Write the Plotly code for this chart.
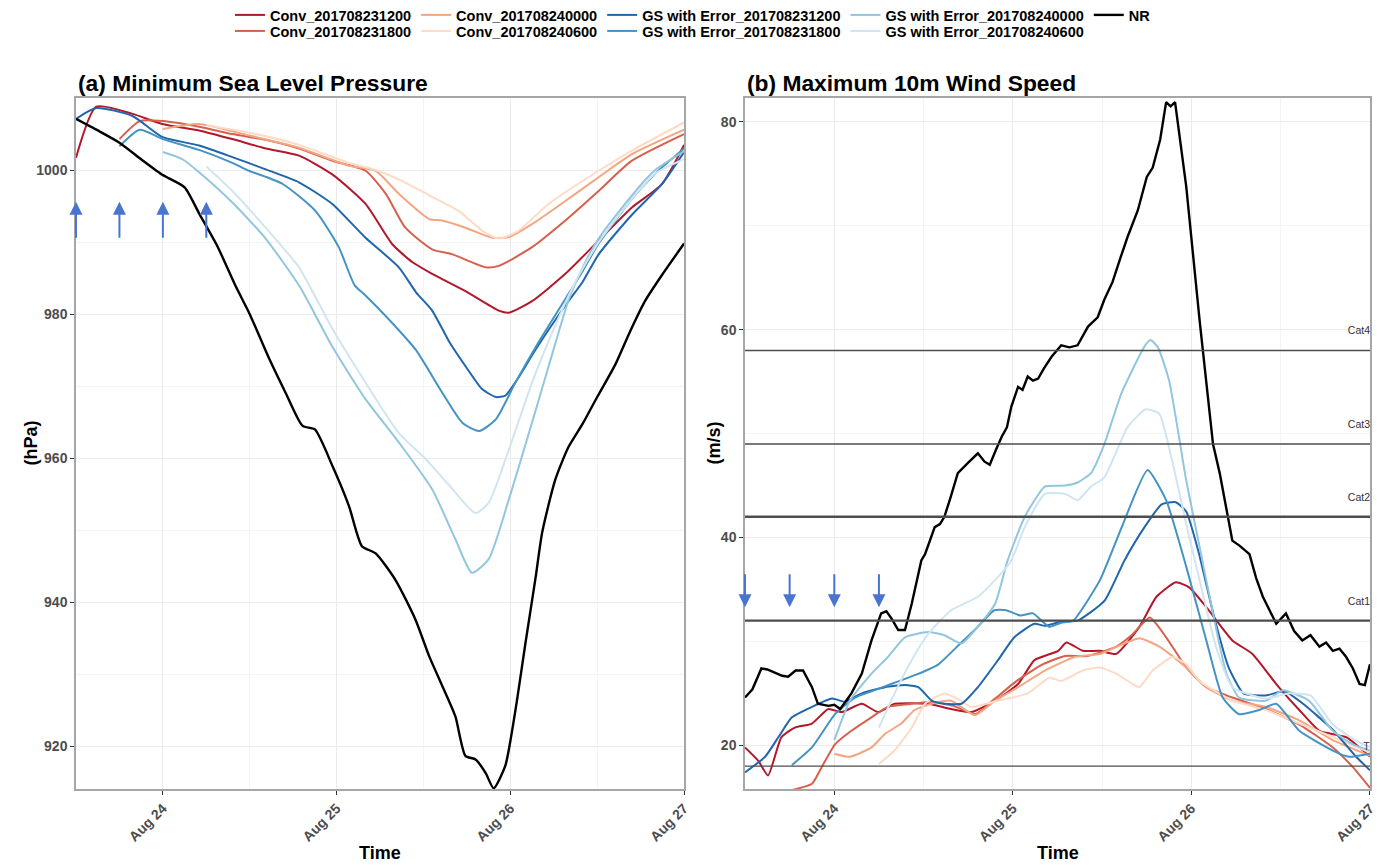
import pandas as pd
import plotly.graph_objects as go

BASE = pd.Timestamp("2017-08-23 12:00")
FONT = "Liberation Sans"

# ---------------- (a) Minimum sea level pressure (hPa) ----------------
# hours after 2017-08-23 12:00
p_conv1200_t = [0, 2.8, 7.8, 11.9, 17, 21.6, 26.2, 30.8, 35.4, 40, 43.7, 46.5, 49.2, 53.8, 58.4, 59.8, 63, 67.6, 72.2, 76.8, 80.9, 84]
p_conv1200 = [1001.7, 1008.8, 1007.8, 1006.4, 1005.5, 1004.3, 1003.0, 1002.0, 999.4, 995.3, 989.7, 987.2, 985.6, 983.2, 980.5, 980.2, 981.8, 985.6, 990.2, 994.8, 998.0, 1003.5]
p_conv1800_t = [6, 8.8, 12, 17, 21.6, 26.2, 30.8, 35.4, 40, 42.8, 45.5, 49.2, 52, 56.6, 58.4, 63, 67.6, 72.2, 76.8, 84]
p_conv1800 = [1004.3, 1006.8, 1006.8, 1006.0, 1005.0, 1004.2, 1003.0, 1001.3, 999.9, 996.7, 992.0, 989.0, 988.3, 986.5, 986.7, 989.3, 993.0, 997.1, 1001.3, 1005.0]
p_conv0000_t = [12, 17, 23.9, 30.8, 37.7, 41.4, 44.6, 48.8, 50.6, 53.8, 57.5, 59.8, 63, 67.6, 72.2, 76.8, 84]
p_conv0000 = [1005.7, 1006.4, 1004.8, 1003.1, 1000.6, 999.9, 996.7, 993.2, 993.0, 992.0, 990.6, 990.7, 992.5, 995.7, 999.0, 1002.2, 1005.6]
p_conv0600_t = [18, 23.9, 30.8, 37.7, 41.4, 45, 48.8, 52.9, 56.1, 58.4, 61, 65.3, 72.2, 76.8, 84]
p_conv0600 = [1006.2, 1005.2, 1003.5, 1001.0, 1000.0, 998.5, 996.5, 994.3, 991.6, 990.5, 991.5, 995.3, 999.9, 1002.7, 1006.6]
p_gs1200_t = [0, 2.8, 7.8, 11.9, 17, 21.6, 26.2, 30.8, 35.4, 40, 44.6, 47, 49.2, 51.6, 54, 56.1, 58, 59.3, 61, 63.5, 67.6, 70, 72.2, 76.8, 80.9, 84]
p_gs1200 = [1007.1, 1008.6, 1007.5, 1004.6, 1003.4, 1001.8, 1000.1, 998.3, 995.3, 990.6, 986.5, 983.0, 980.5, 976.1, 972.5, 969.6, 968.5, 968.7, 971.0, 975.1, 981.2, 984.5, 988.3, 993.8, 998.0, 1002.5]
p_gs1800_t = [6, 8.8, 12, 17, 21.6, 23.9, 28.5, 33.1, 36.3, 38.5, 40, 43.2, 46.9, 50.6, 53.4, 55.7, 58, 60.7, 63.9, 67.6, 70, 72.2, 76.8, 80, 84]
p_gs1800 = [1003.3, 1005.6, 1004.3, 1002.8, 1001.0, 999.9, 998.1, 994.3, 989.3, 984.0, 982.6, 979.3, 975.1, 969.1, 964.9, 963.8, 965.4, 970.5, 976.1, 982.1, 986.0, 989.8, 996.0, 999.5, 1003.0]
p_gs0000_t = [12, 14.7, 17, 21.6, 26.2, 30.8, 33, 35.4, 40, 44.6, 49.2, 52.4, 54.7, 57, 59.8, 62.6, 65.3, 68.1, 70, 72.2, 76.8, 80, 84]
p_gs0000 = [1002.5, 1001.5, 999.7, 995.5, 990.5, 984.0, 980.0, 975.5, 968.2, 962.2, 955.7, 948.8, 944.1, 946.0, 954.3, 963.6, 972.8, 982.1, 986.5, 990.5, 996.5, 1000.0, 1002.6]
p_gs0600_t = [18, 21.6, 26.2, 30.8, 35.4, 40, 44.6, 48.3, 51.6, 55.2, 57, 59.8, 63, 66.2, 69, 72.2, 76.8, 80, 84]
p_gs0600 = [1000.5, 997.1, 992.0, 986.5, 978.0, 970.5, 963.5, 959.9, 956.2, 952.4, 953.8, 961.2, 970.5, 978.4, 984.5, 990.0, 996.0, 999.5, 1001.5]
p_nr_t = [0, 3, 6, 9, 12, 15, 17, 19.5, 22, 24, 26.7, 29, 31.3, 33, 35.4, 37.7, 39.5, 41.4, 44.2, 46.9, 48.8, 50.6, 52.4, 53.8, 55.2, 56.6, 57.7, 59.3, 60.7, 62.1, 63.5, 64.4, 66.2, 68, 70, 72, 74.5, 76.5, 78.6, 81, 84]
p_nr = [1007.1, 1005.5, 1003.8, 1001.5, 999.3, 997.6, 994.0, 989.5, 984.0, 980.0, 973.8, 969.0, 964.5, 964.0, 959.0, 953.4, 947.8, 946.8, 943.0, 937.6, 932.5, 928.4, 924.2, 918.7, 918.2, 916.3, 914.2, 917.3, 925.0, 934.4, 943.5, 949.7, 957.0, 961.5, 964.8, 968.5, 973.0, 977.5, 981.8, 985.5, 989.8]

# ---------------- (b) Maximum 10 m wind speed (m/s) ----------------
w_conv1200_t = [0, 1.8, 3.1, 4.9, 6.7, 9, 11.2, 13, 15.7, 17.9, 20.1, 24.6, 27.7, 30.4, 33.6, 36.7, 38.9, 42.1, 43.2, 45.4, 47.7, 49.9, 53, 55.3, 57.9, 59.7, 62, 65.5, 68.2, 71.4, 74.5, 77.2, 80.8, 82.6, 84]
w_conv1200 = [19.8, 18.5, 17.1, 20.8, 21.7, 22.1, 23.5, 23.2, 24.0, 23.2, 24.0, 24.0, 23.5, 23.2, 24.3, 25.9, 28.2, 29.1, 29.9, 29.1, 29.1, 28.8, 31.4, 34.3, 35.7, 35.2, 33.3, 30.1, 28.8, 25.9, 23.4, 21.4, 20.8, 19.8, 18.9]
w_conv1800_t = [5.8, 9, 10.3, 12.1, 14.3, 17, 19.2, 22.4, 25, 28, 31, 33.6, 36.7, 40, 43, 46, 49.9, 52.1, 54.4, 56.6, 59.3, 62, 65.5, 70, 74.5, 79, 81.7, 84]
w_conv1800 = [15.6, 16.3, 17.9, 20.1, 21.4, 22.7, 23.7, 24.0, 24.2, 23.8, 23.0, 24.5, 26.3, 27.8, 28.6, 28.6, 29.5, 30.7, 32.3, 30.4, 27.5, 25.6, 24.6, 23.5, 22.0, 19.8, 17.9, 15.9]
w_conv0000_t = [12, 14.1, 17, 18.8, 21, 22.8, 25.1, 27.7, 30.9, 33.6, 36.7, 40.3, 44.3, 47.7, 50, 53, 55.7, 59.3, 62, 65.5, 70, 74.5, 79, 84]
w_conv0000 = [19.2, 18.9, 19.8, 21.1, 22.1, 23.4, 24.0, 24.3, 22.9, 24.3, 25.6, 27.2, 28.5, 28.8, 29.5, 30.3, 29.5, 27.5, 25.6, 24.3, 23.7, 22.4, 20.5, 19.0]
w_conv0600_t = [18, 20.1, 22.4, 24.2, 26.8, 28.5, 30.4, 34, 38, 40.9, 42.5, 45.4, 47.7, 49.9, 52.1, 53, 54.8, 57.5, 59.3, 61.1, 65.5, 70, 74.5, 79, 84]
w_conv0600 = [18.2, 19.5, 21.7, 24.0, 25.0, 24.5, 23.7, 24.3, 25.0, 26.5, 26.2, 27.2, 27.5, 26.9, 25.9, 25.6, 27.2, 28.5, 27.8, 26.2, 24.3, 23.4, 22.1, 20.8, 19.3]
w_gs1200_t = [0, 2.7, 4.5, 6.3, 9, 11.7, 13.4, 15.7, 18.8, 21.5, 23.3, 25.1, 26.8, 29.1, 31.3, 34, 36.2, 38.9, 40.3, 42.5, 44.7, 48.3, 51, 53.7, 56, 57.9, 59.3, 61, 63, 65, 67, 70, 72.5, 75, 79, 82, 84]
w_gs1200 = [17.4, 18.9, 20.8, 22.7, 23.7, 24.5, 24.2, 25.0, 25.6, 25.8, 25.6, 24.3, 24.0, 24.0, 25.6, 28.2, 30.4, 31.7, 31.5, 31.9, 32.0, 33.9, 37.8, 41.0, 43.2, 43.4, 42.5, 38.5, 32.5, 27.5, 25.0, 24.8, 25.2, 24.0, 21.5, 19.0, 17.6]
w_gs1800_t = [6.3, 9, 12.1, 14.8, 17, 20, 23, 26, 28.5, 31, 33.5, 35.1, 37, 38.7, 40.9, 42.5, 44.1, 47.7, 50.8, 54.1, 56.6, 59.3, 62, 64.2, 66.4, 69.1, 71.4, 74.5, 79, 81.2, 84]
w_gs1800 = [18.1, 19.8, 23.0, 24.6, 25.2, 26.0, 26.8, 27.8, 29.5, 31.2, 33.0, 33.0, 32.5, 32.7, 31.4, 31.8, 32.0, 35.9, 41.3, 46.5, 43.6, 37.2, 30.1, 24.6, 23.0, 23.4, 24.0, 21.4, 19.5, 18.9, 19.2]
w_gs0000_t = [12, 14.1, 17, 19.2, 21.5, 24.6, 26.8, 29.1, 31.3, 33.6, 35.3, 37.6, 40.3, 43, 44.7, 46.5, 48.3, 50.6, 53.7, 54.5, 55.5, 57, 59.3, 61.1, 62.9, 64.7, 66.4, 70, 72.3, 75.8, 79, 81.7, 84]
w_gs0000 = [20.5, 24.3, 26.9, 28.5, 30.4, 30.9, 30.6, 29.8, 31.4, 33.6, 37.8, 42.0, 44.9, 45.0, 45.3, 46.2, 49.0, 53.9, 58.4, 59.0, 58.3, 55.1, 45.5, 39.1, 32.7, 26.9, 24.6, 24.3, 25.3, 24.3, 21.4, 20.1, 19.5]
w_gs0600_t = [18, 20.1, 22.4, 24.6, 27.7, 31.3, 33.6, 35.8, 37.6, 40.3, 43, 44.7, 46.5, 48.3, 51.4, 53.7, 54.4, 55.7, 57.5, 59.3, 61.1, 63.3, 65.5, 70, 73, 76, 79, 82, 84]
w_gs0600 = [21.7, 25.0, 28.2, 30.7, 33.0, 34.3, 35.9, 37.8, 41.0, 44.2, 44.2, 43.6, 44.9, 45.8, 50.6, 52.3, 52.3, 51.9, 47.1, 41.3, 35.9, 29.5, 25.6, 24.5, 25.0, 24.8, 22.0, 20.5, 19.8]
w_nr_t = [0, 1, 2.2, 3, 4, 5, 5.8, 6.8, 7.8, 9, 9.8, 10.5, 11.2, 12, 12.8, 14.3, 15.7, 17, 18.3, 19, 19.7, 20.6, 21.5, 22.4, 23.7, 24.2, 25.5, 26.2, 26.8, 27.6, 28.6, 30, 31.3, 32.2, 32.9, 33.7, 34.5, 35.2, 35.8, 36.7, 37.3, 38, 38.7, 39.4, 40.2, 41.2, 42.5, 43.6, 44.7, 46.1, 47.4, 48.3, 49.4, 50.5, 51.4, 52.8, 54, 54.8, 55.8, 56.6, 57.2, 57.8, 59.3, 61.1, 62.9, 63.8, 64.7, 65.5, 66.5, 67.8, 68.7, 69.6, 70.5, 71.4, 72.7, 73.8, 74.9, 76, 77.2, 78.1, 79, 79.9, 80.8, 81.7, 82.6, 83.3, 84]
w_nr = [24.6, 25.4, 27.4, 27.3, 27.0, 26.7, 26.6, 27.2, 27.2, 25.6, 24.0, 23.9, 23.8, 23.9, 23.5, 25.0, 26.9, 30.1, 32.7, 32.9, 32.2, 31.1, 31.1, 33.6, 37.8, 38.4, 41.0, 41.3, 42.0, 43.8, 46.2, 47.2, 48.1, 47.3, 47.0, 48.4, 49.7, 50.6, 52.6, 54.5, 54.2, 55.5, 55.1, 55.3, 56.3, 57.4, 58.5, 58.3, 58.5, 60.3, 61.2, 62.9, 64.6, 67.0, 68.9, 71.5, 74.7, 75.6, 78.3, 81.9, 81.5, 81.9, 73.8, 60.9, 49.0, 46.2, 42.9, 39.7, 39.2, 38.4, 36.1, 34.3, 33.0, 31.7, 32.7, 31.0, 30.1, 30.6, 29.5, 29.9, 29.1, 29.3, 28.5, 27.4, 25.9, 25.8, 27.8]

cat_levels = [18, 32, 42, 49, 58]
cat_labels = ["TS", "Cat1", "Cat2", "Cat3", "Cat4"]
cat_widths = [1.3, 2.4, 2.4, 1.3, 1.3]
arrow_hours = [0, 6, 12, 18]

names = ["Conv_201708231200", "Conv_201708231800", "Conv_201708240000", "Conv_201708240600",
         "GS with Error_201708231200", "GS with Error_201708231800", "GS with Error_201708240000",
         "GS with Error_201708240600", "NR"]
colors = ["#B2182B", "#D6604D", "#F4A582", "#FDDBC7", "#2166AC", "#4393C3", "#92C5DE", "#D1E5F0", "#000000"]
legend_of = ["legend", "legend2", "legend", "legend2", "legend", "legend2", "legend", "legend2", "legend"]

p_series = [(p_conv1200_t, p_conv1200), (p_conv1800_t, p_conv1800), (p_conv0000_t, p_conv0000),
            (p_conv0600_t, p_conv0600), (p_gs1200_t, p_gs1200), (p_gs1800_t, p_gs1800),
            (p_gs0000_t, p_gs0000), (p_gs0600_t, p_gs0600), (p_nr_t, p_nr)]
w_series = [(w_conv1200_t, w_conv1200), (w_conv1800_t, w_conv1800), (w_conv0000_t, w_conv0000),
            (w_conv0600_t, w_conv0600), (w_gs1200_t, w_gs1200), (w_gs1800_t, w_gs1800),
            (w_gs0000_t, w_gs0000), (w_gs0600_t, w_gs0600), (w_nr_t, w_nr)]


def to_time(hours):
    return [BASE + pd.Timedelta(hours=h) for h in hours]


fig = go.Figure()

for i, name in enumerate(names):
    t, v = p_series[i]
    is_nr = name == "NR"
    fig.add_trace(go.Scatter(
        x=to_time(t), y=v, mode="lines", name=name, legend=legend_of[i],
        line=dict(color=colors[i], width=2.4 if is_nr else 2.0, shape="spline", smoothing=0.6),
        xaxis="x", yaxis="y", showlegend=True))

for i, name in enumerate(names):
    t, v = w_series[i]
    is_nr = name == "NR"
    fig.add_trace(go.Scatter(
        x=to_time(t), y=v, mode="lines", name=name,
        line=dict(color=colors[i], width=2.4 if is_nr else 2.0,
                  shape="linear" if is_nr else "spline", smoothing=0.5),
        xaxis="x2", yaxis="y2", showlegend=False))

t_start = BASE
t_end = BASE + pd.Timedelta(hours=84)
for lev, lab, lw in zip(cat_levels, cat_labels, cat_widths):
    fig.add_trace(go.Scatter(x=[t_start, t_end], y=[lev, lev], mode="lines",
                             line=dict(color="#4D4D4D", width=lw), xaxis="x2", yaxis="y2",
                             showlegend=False, hoverinfo="skip"))
    fig.add_trace(go.Scatter(x=[t_end], y=[lev + 1.8], mode="text", text=[lab],
                             textposition="middle center" if lab == "TS" else "middle left",
                             textfont=dict(family=FONT, size=10.5, color="#333333"),
                             cliponaxis=True, xaxis="x2", yaxis="y2", showlegend=False,
                             hoverinfo="skip"))

annotations = []
ARROW = "#4A74D0"
for h in arrow_hours:
    tt = BASE + pd.Timedelta(hours=h)
    annotations.append(dict(x=tt, y=995.6, ax=tt, ay=990.4, xref="x", yref="y", axref="x", ayref="y",
                            showarrow=True, arrowhead=2, arrowsize=1.3, arrowwidth=2, arrowcolor=ARROW, text=""))
    annotations.append(dict(x=tt, y=33.3, ax=tt, ay=36.6, xref="x2", yref="y2", axref="x2", ayref="y2",
                            showarrow=True, arrowhead=2, arrowsize=1.3, arrowwidth=2, arrowcolor=ARROW, text=""))

title_font = dict(family=FONT, size=22.8, color="black", weight="bold")
axis_title_font = dict(family=FONT, size=18, color="black", weight="bold")
annotations += [
    dict(text="(a) Minimum Sea Level Pressure", x=0.0, y=1.0217, xref="paper", yref="paper",
         xanchor="left", yanchor="middle", showarrow=False, font=title_font),
    dict(text="(b) Maximum 10m Wind Speed", x=0.517, y=1.0217, xref="paper", yref="paper",
         xanchor="left", yanchor="middle", showarrow=False, font=title_font),
    dict(text="Time", x=0.235, y=-0.0926, xref="paper", yref="paper", showarrow=False,
         xanchor="center", yanchor="middle", font=axis_title_font),
    dict(text="Time", x=0.759, y=-0.0926, xref="paper", yref="paper", showarrow=False,
         xanchor="center", yanchor="middle", font=axis_title_font),
    dict(text="(hPa)", x=-0.0355, y=0.5, xref="paper", yref="paper", showarrow=False, textangle=-90,
         xanchor="center", yanchor="middle", font=axis_title_font),
    dict(text="(m/s)", x=0.4923, y=0.5, xref="paper", yref="paper", showarrow=False, textangle=-90,
         xanchor="center", yanchor="middle", font=axis_title_font),
]

tick_font = dict(family=FONT, size=14, color="#4D4D4D", weight="bold")
xaxis_common = dict(
    type="date", tickvals=to_time([12, 36, 60, 84]), tickformat="%b %d", tickangle=-45,
    tickfont=tick_font, ticks="outside", ticklen=4, tickcolor="#333333",
    showgrid=True, gridcolor="#EBEBEB", gridwidth=1,
    minor=dict(dtick=12 * 3600 * 1000, tick0="2017-08-24", showgrid=True, gridcolor="#F4F4F4", ticks=""),
    showline=True, linecolor="#A6A6A6", linewidth=1.5, mirror=True, zeroline=False,
    range=[t_start, t_end], automargin=False,
)
yaxis_common = dict(
    tickfont=tick_font, ticks="outside", ticklen=4, tickcolor="#333333",
    showgrid=True, gridcolor="#EBEBEB", gridwidth=1,
    showline=True, linecolor="#A6A6A6", linewidth=1.5, mirror=True, zeroline=False,
    automargin=False,
)

legend_common = dict(orientation="h", xanchor="left", yanchor="top",
                     font=dict(family=FONT, size=14.5, color="black", weight="bold"),
                     bgcolor="rgba(0,0,0,0)", itemwidth=30, tracegroupgap=0)

fig.update_layout(
    width=1384, height=865,
    margin=dict(l=76, r=14, t=98, b=76, autoexpand=False),
    paper_bgcolor="white", plot_bgcolor="white",
    xaxis=dict(domain=[0, 0.4699], **xaxis_common),
    xaxis2=dict(domain=[0.517, 1], anchor="y2", **xaxis_common),
    yaxis=dict(domain=[0, 1], anchor="x", range=[914.1, 1010], tickvals=[920, 940, 960, 980, 1000],
               minor=dict(dtick=10, tick0=910, showgrid=True, gridcolor="#F4F4F4", ticks=""), **yaxis_common),
    yaxis2=dict(domain=[0, 1], anchor="x2", range=[15.8, 82.3], tickvals=[20, 40, 60, 80],
                minor=dict(dtick=10, tick0=10, showgrid=True, gridcolor="#F4F4F4", ticks=""), **yaxis_common),
    legend=dict(x=0.119, y=1.1433, **legend_common),
    legend2=dict(x=0.119, y=1.1201, **legend_common),
    annotations=annotations,
    showlegend=True,
)

fig.write_html("out.html")
